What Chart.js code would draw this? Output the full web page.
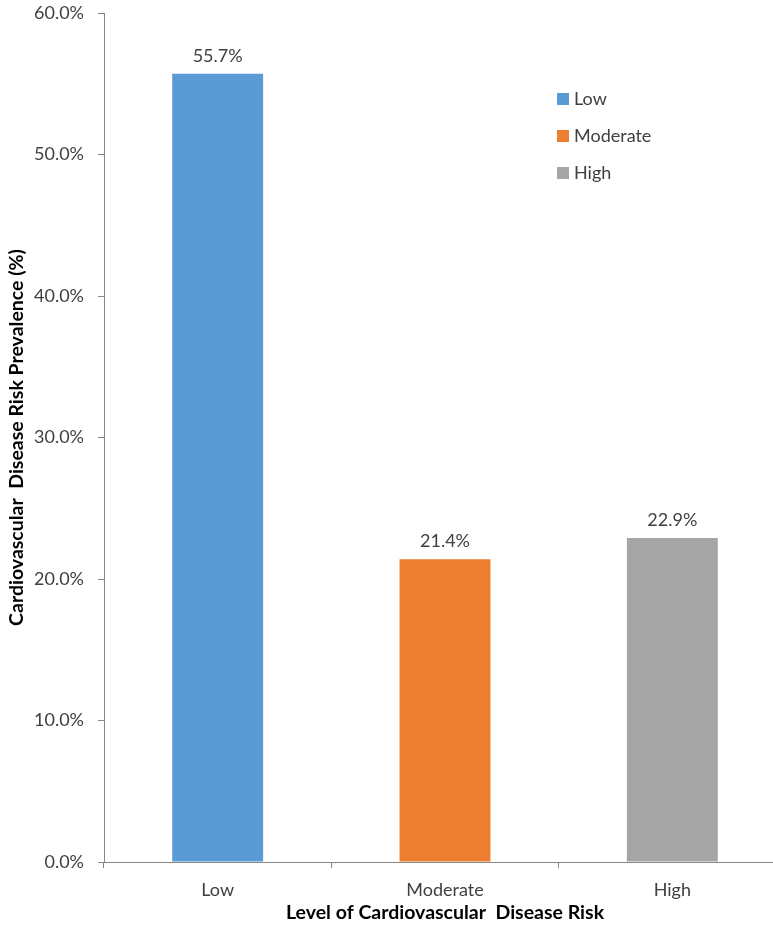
<!DOCTYPE html>
<html>
<head>
<meta charset="utf-8">
<script src="https://cdn.jsdelivr.net/npm/chart.js@4"></script>
<style>
  html, body { margin: 0; padding: 0; background: #fff; overflow: hidden; }
  #wrap { width: 773px; height: 940px; overflow: hidden; position: relative; }
  #box { width: 800px; height: 940px; position: absolute; left: 0; top: 0; }
</style>
</head>
<body>
<div id="wrap"><div id="box"><canvas id="c"></canvas></div></div>
<script>
const categories = ["Low", "Moderate", "High"];
const prevalence = [55.7, 21.4, 22.9];
const barColors = ["#5B9BD5", "#ED7D31", "#A5A5A5"];
const yTicks = [0, 10, 20, 30, 40, 50, 60];
const yTitle = "Cardiovascular  Disease Risk Prevalence (%)";
const xTitle = "Level of Cardiovascular  Disease Risk";

const FONT = "Lato, 'Open Sans', sans-serif";

const valueLabels = {
  id: 'valueLabels',
  afterDatasetsDraw(chart) {
    const ctx = chart.ctx;
    const meta = chart.getDatasetMeta(0);
    ctx.save();
    ctx.font = "18px " + FONT;
    ctx.fillStyle = "#404040";
    ctx.textAlign = "center";
    ctx.textBaseline = "middle";
    meta.data.forEach((el, i) => {
      ctx.fillText(prevalence[i].toFixed(1) + "%", el.x, el.y - 18);
    });
    ctx.restore();
  }
};

const customLegend = {
  id: 'customLegend',
  afterDraw(chart) {
    const ctx = chart.ctx;
    ctx.save();
    ctx.font = "18px " + FONT;
    ctx.textBaseline = "middle";
    ctx.textAlign = "left";
    const x0 = 557, y0 = 99, step = 37;
    categories.forEach((c, i) => {
      const y = y0 + i * step;
      ctx.fillStyle = barColors[i];
      ctx.fillRect(x0, y - 6, 12, 12);
      ctx.fillStyle = "#404040";
      ctx.fillText(c, x0 + 17, y);
    });
    ctx.restore();
  }
};

new Chart(document.getElementById('c'), {
  type: 'bar',
  data: {
    labels: categories,
    datasets: [{
      data: prevalence,
      backgroundColor: barColors,
      borderWidth: 0,
      barPercentage: 1.0,
      categoryPercentage: 0.4
    }]
  },
  options: {
    responsive: true,
    maintainAspectRatio: false,
    animation: false,
    layout: { padding: { top: 13, right: 14, left: 0, bottom: 0 } },
    plugins: { legend: { display: false }, tooltip: { enabled: false } },
    scales: {
      x: {
        offset: true,
        grid: { offset: true, drawOnChartArea: false, drawTicks: true, tickLength: 6, color: "#868686", lineWidth: 1 },
        border: { color: "#868686", width: 1 },
        ticks: { color: "#404040", font: { family: FONT, size: 18 }, padding: 11 },
        title: { display: true, text: xTitle, color: "#000", font: { family: FONT, size: 19.5, weight: 'bold' }, padding: { top: 4, bottom: 16 } },
        afterFit(scale) { scale.height = 78; scale.paddingLeft = 0; scale.paddingRight = 0; }
      },
      y: {
        min: 0, max: 60,
        afterBuildTicks(scale) { scale.ticks = yTicks.map(v => ({ value: v })); },
        grid: { drawOnChartArea: false, drawTicks: true, tickLength: 6, color: "#868686" },
        border: { color: "#868686", width: 1 },
        ticks: { color: "#404040", font: { family: FONT, size: 18 }, padding: 14, callback: v => v.toFixed(1) + "%" },
        title: { display: true, text: yTitle, color: "#000", font: { family: FONT, size: 19.5, weight: 'bold' }, padding: { top: 5, bottom: 0 } },
        afterFit(scale) { scale.width = 104; scale.paddingTop = 0; scale.paddingBottom = 0; }
      }
    }
  },
  plugins: [valueLabels, customLegend]
});
</script>
</body>
</html>
